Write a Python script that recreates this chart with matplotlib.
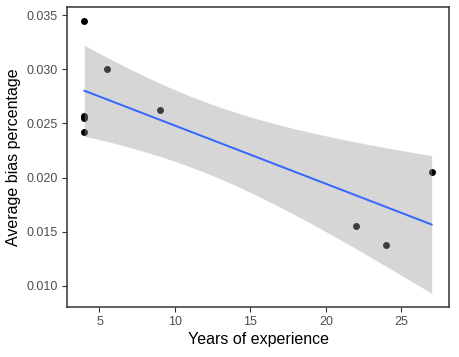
import numpy as np
import matplotlib
matplotlib.use('Agg')
import matplotlib.pyplot as plt

plt.rcParams['font.family'] = ['Liberation Sans', 'DejaVu Sans']

# data
years = [4, 4, 4, 4, 5.5, 9, 22, 24, 27]
bias = [0.0345, 0.02571, 0.02546, 0.02422, 0.0300, 0.0262, 0.01557, 0.01379, 0.0205]
x_ticks = [5, 10, 15, 20, 25]
y_ticks = [0.010, 0.015, 0.020, 0.025, 0.030, 0.035]

T_95 = {7: 2.365}  # t quantile, df = n - 2


def lm_fit(x, y, npts=80):
    x = np.asarray(x, float)
    y = np.asarray(y, float)
    n = len(x)
    b, a = np.polyfit(x, y, 1)
    s = np.sqrt(((y - a - b * x) ** 2).sum() / (n - 2))
    sxx = ((x - x.mean()) ** 2).sum()
    xs = np.linspace(x.min(), x.max(), npts)
    fit = a + b * xs
    hw = T_95[n - 2] * s * np.sqrt(1. / n + (xs - x.mean()) ** 2 / sxx)
    return xs, fit, fit - hw, fit + hw


def main():
    xs, fit, lo, hi = lm_fit(years, bias)

    fig = plt.figure(figsize=(4.59, 3.57), dpi=100)
    ax = fig.add_axes([67 / 459., 1 - 307 / 357., (449 - 67) / 459., 300 / 357.])

    ax.scatter(years, bias, s=25, color='black', linewidths=0, zorder=2)
    ax.fill_between(xs, lo, hi, color='#999999', alpha=0.4, linewidth=0, zorder=3)
    ax.plot(xs, fit, color='#3366FF', linewidth=1.4, zorder=4)

    xr = max(years) - min(years)
    ax.set_xlim(min(years) - 0.05 * xr, max(years) + 0.05 * xr)
    ymin = min(lo.min(), min(bias))
    ymax = max(hi.max(), max(bias))
    yr = ymax - ymin
    ax.set_ylim(ymin - 0.05 * yr, ymax + 0.05 * yr)

    ax.set_xticks(x_ticks)
    ax.set_yticks(y_ticks)
    ax.set_yticklabels(['%.3f' % v for v in y_ticks])
    ax.tick_params(length=3.5, width=0.8, color='#333333', labelcolor='#4D4D4D',
                   labelsize=9, pad=3)
    for sp in ax.spines.values():
        sp.set_color('#333333')
        sp.set_linewidth(1.1)

    ax.set_xlabel('Years of experience', fontsize=11.5, color='black', labelpad=3)
    ax.set_ylabel('Average bias percentage', fontsize=11.5, color='black', labelpad=4)

    fig.savefig('out.png', dpi=100)


if __name__ == '__main__':
    main()
